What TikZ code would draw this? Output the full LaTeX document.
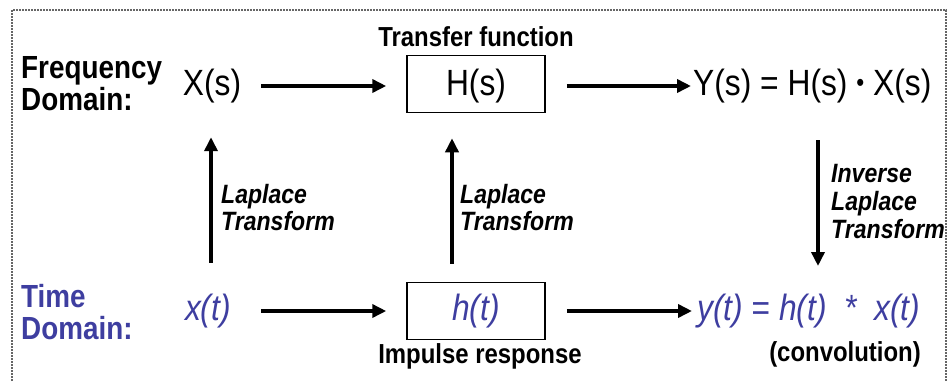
\documentclass[tikz,border=0pt]{standalone}
\usepackage{fontspec}
\setmainfont[FakeStretch=0.87]{Liberation Sans}
\usetikzlibrary{arrows.meta}
\definecolor{tblue}{RGB}{62,62,160}
\tikzset{
  arr/.style={line width=3.6pt,-{Triangle[length=14pt,width=13pt]}},
  blk/.style={draw,line width=1.5pt,minimum width=138pt,minimum height=57pt,inner sep=0pt},
  big/.style={font=\fontsize{36.5}{40}\selectfont,inner sep=0pt},
  bigi/.style={font=\fontsize{36.5}{40}\selectfont\itshape,text=tblue,inner sep=0pt},
  lab/.style={font=\fontsize{27.5}{30}\selectfont\bfseries,inner sep=0pt},
  dom/.style={font=\fontsize{32}{34}\selectfont\bfseries,align=left,inner sep=0pt,anchor=west},
  lap/.style={font=\fontsize{26.5}{28}\selectfont\bfseries\itshape,align=left,inner sep=0pt,anchor=west},
}
\begin{document}
\begin{tikzpicture}[x=1pt,y=-1pt]
\useasboundingbox (0,0) rectangle (951,381);
\draw[black!60,line width=2pt,densely dotted] (12,381) -- (12,10) -- (946,10) -- (946,381);
% frequency row
\node[dom] (fd) at (21,84) {Frequency\\[-2pt]Domain:};
\node[big] (Xs) at (212,86) {X(s)};
\node[blk] (Hs) at (476,84) {};
\node[big] (Hst) at (476,86) {H(s)};
\node[lab] (tf) at (476,37) {Transfer function};
\node[big,anchor=west] (Ys) at (693,86) {Y(s) = H(s) \raisebox{0.12em}{\fontsize{26}{26}\selectfont•} X(s)};
% time row
\node[dom,text=tblue] (td) at (21,312) {Time\\[-2pt]Domain:};
\node[bigi] (xt) at (208,311) {x(t)};
\node[blk] (ht) at (476,311) {};
\node[bigi] (htt) at (476,311) {h(t)};
\node[lab] (ir) at (480,356) {Impulse response};
\node[bigi,anchor=west] (yt) at (697,311) {y(t) = h(t)\ \ * \ x(t)};
\node[lab] (cv) at (845,354) {(convolution)};
% horizontal arrows
\draw[arr,shorten <=20pt,shorten >=20pt] (Xs.east) -- (Xs.east -| Hs.west);
\draw[arr,shorten <=21pt,shorten >=2pt] (Hs.east |- Ys.west) -- (Ys.west);
\draw[arr,shorten <=30pt,shorten >=20pt] (xt.east) -- (xt.east -| ht.west);
\draw[arr,shorten <=21pt,shorten >=5pt] (ht.east |- yt.west) -- (yt.west);
% vertical arrows
\draw[arr] ([xshift=3pt,yshift=31pt]xt.north) -- ([xshift=-1pt,yshift=-34pt]Xs.south);
\draw[arr] ([xshift=-24pt,yshift=18pt]ht.north) -- ([xshift=-24pt,yshift=-25pt]Hs.south);
\coordinate (inv1) at (818,140);
\coordinate (inv2) at (818,266);
\draw[arr] (inv1) -- (inv2);
\node[lap] (l1) at (221,208) {Laplace\\[-1pt]Transform};
\node[lap] (l2) at (460,208) {Laplace\\[-1pt]Transform};
\node[lap] (l3) at (831,202) {Inverse\\[0pt]Laplace\\[0pt]Transform};
\end{tikzpicture}
\end{document}
